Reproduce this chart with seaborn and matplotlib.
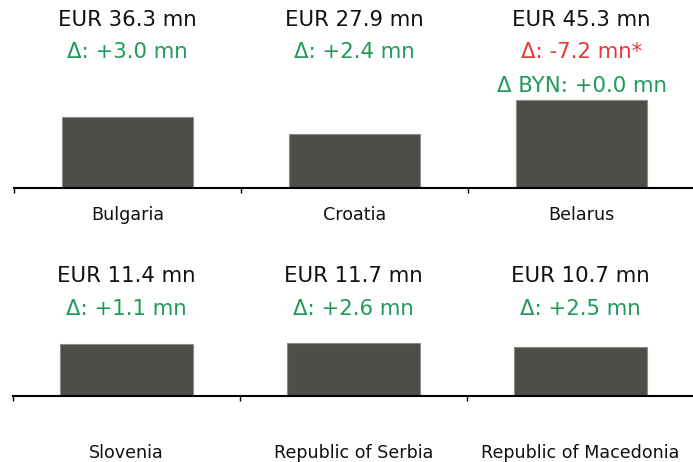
import matplotlib
matplotlib.use("Agg")
import matplotlib.pyplot as plt
import matplotlib.transforms as mtransforms
import seaborn as sns
import pandas as pd

# data
top_countries = ["Bulgaria", "Croatia", "Belarus"]
top_values = [36.3, 27.9, 45.3]
top_deltas = ["Δ: +3.0 mn", "Δ: +2.4 mn", "Δ: -7.2 mn*"]
top_delta_pos = [True, True, False]
top_extra = ["", "", "Δ BYN: +0.0 mn"]

bottom_countries = ["Slovenia", "Republic of Serbia", "Republic of Macedonia"]
bottom_values = [11.4, 11.7, 10.7]
bottom_deltas = ["Δ: +1.1 mn", "Δ: +2.6 mn", "Δ: +2.5 mn"]
bottom_delta_pos = [True, True, True]

BAR = "#4e4e49"
GREEN = "#1f9a5a"
RED = "#e53935"

sns.set_style("white")
plt.rcParams["font.family"] = ["DejaVu Sans"]

W, H = 693, 462
fig = plt.figure(figsize=(W / 100, H / 100), dpi=100)


def px_axes(left, top, right, bottom):
    return fig.add_axes([left / W, 1 - bottom / H, (right - left) / W, (bottom - top) / H])


def draw_row(ax, countries, values, deltas, delta_pos, extra, ymax, bar_w,
             y_eur, y_delta, y_extra, y_label):
    df = pd.DataFrame({"country": countries, "value": values})
    sns.barplot(data=df, x="country", y="value", ax=ax, color=BAR,
                width=bar_w, edgecolor="#8c8c88", linewidth=0.8, saturation=1)
    ax.set_xlim(-0.5, 2.5)
    ax.set_ylim(0, ymax)
    ax.set_xticks([-0.5, 0.5, 1.5, 2.5])
    ax.set_xticklabels([])
    ax.tick_params(axis="x", bottom=True, direction="out", length=3.5, width=1.0,
                   color="black")
    ax.set_yticks([])
    ax.set_xlabel("")
    ax.set_ylabel("")
    for s in ["left", "right", "top"]:
        ax.spines[s].set_visible(False)
    ax.spines["bottom"].set_linewidth(1.5)
    ax.spines["bottom"].set_color("black")
    tr = mtransforms.blended_transform_factory(ax.transData, ax.transAxes)
    for i, c in enumerate(countries):
        ax.text(i, y_eur, f"EUR {values[i]:.1f} mn", transform=tr, ha="center",
                va="baseline", fontsize=15.3, color="#111111", clip_on=False)
        ax.text(i, y_delta, deltas[i], transform=tr, ha="center", va="baseline",
                fontsize=15.3, color=GREEN if delta_pos[i] else RED, clip_on=False)
        if extra and extra[i]:
            ax.text(i, y_extra, extra[i], transform=tr, ha="center", va="baseline",
                    fontsize=15.3, color=GREEN, clip_on=False)
        ax.text(i, y_label, c, transform=tr, ha="center", va="baseline",
                fontsize=12.6, color="#111111", clip_on=False)


# top row: axes spans 0..188 px, scale ~1.95 px per mn
ax1 = px_axes(14, 0, 695, 188)
draw_row(ax1, top_countries, top_values, top_deltas, top_delta_pos, top_extra,
         188 / 1.95, 0.575, 0.863, 0.690, 0.512, -0.170)

# bottom row: axes spans 240..396 px, scale ~4.56 px per mn
ax2 = px_axes(13, 240, 694, 396)
draw_row(ax2, bottom_countries, bottom_values, bottom_deltas, bottom_delta_pos, None,
         156 / 4.56, 0.59, 0.733, 0.519, 0, -0.397)

fig.savefig("out.png", dpi=100)
